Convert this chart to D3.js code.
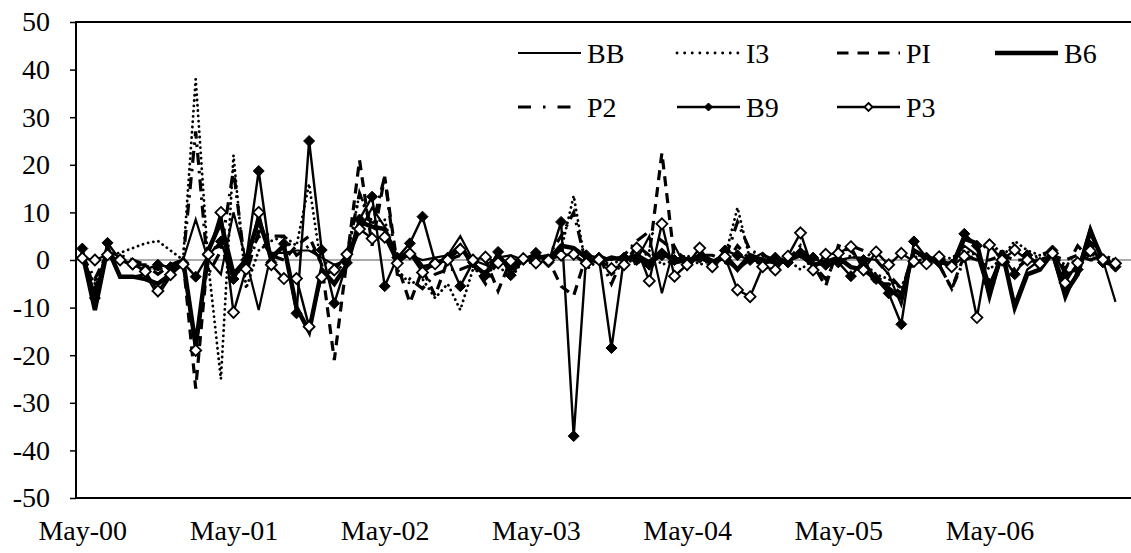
<!DOCTYPE html>
<html><head><meta charset="utf-8">
<script src="https://cdn.jsdelivr.net/npm/d3@7"></script>
</head>
<body style="margin:0">
<svg id="c" width="1131" height="553"></svg>
<script>
// ---- data ----
const monthNames = ["Jan","Feb","Mar","Apr","May","Jun","Jul","Aug","Sep","Oct","Nov","Dec"];
const startMonth = 4, startYear = 0, nPoints = 83;
const categories = [];
for (let i = 0; i < nPoints; i++) {
  const m = (startMonth + i) % 12, y = startYear + Math.floor((startMonth + i) / 12);
  categories.push(monthNames[m] + "-" + String(y).padStart(2, "0"));
}
const tickLabels = ["May-00","May-01","May-02","May-03","May-04","May-05","May-06"];
const yTicks = [-50,-40,-30,-20,-10,0,10,20,30,40,50];

const BB = [1,-7,2,-3.5,-3.5,-3,-7.5,-3.5,0,8.5,0,-3,10,0,-10.5,1.5,1.5,2,2,0.5,-1,0,6,11,7,0,1,0,0.5,1,5,0,-1,0.5,1,0,0,1,1,1,-1,1,0,1,0,5,-7,3,-2,1.5,0,0,-2,0,1.5,-1,0,2,-1,0,0,0.5,0.5,0,-3,-9.5,2,0,-0.5,-0.5,3,1,-7.5,0.5,-9,-2,0,1,-8.4,-2,7,0,-8.8];
const I3 = [0,-5,1,1.5,2.5,3.5,4,2,0,38,-1,-25,22,-6,2,4,5,3,16,-2,-3,0,14,8,8.5,-2,-5,-4,-8,-5,-10.5,-2,-3,-1,-4,0,-1,0,2,13.5,-2,0,-1,0.5,-1,2,-1,0,1,-1,0,0.5,11,0,-1,0.5,0,-2,0,0.5,-1,1,-0.5,-3,-4,-6,1,-1,0,0.5,2,1,-2,0.5,4,2,1,1,-1,0,1,1,0];
const PI = [1,-6,1,0,-1,-1,-2,-1,0,-27,2,3,-4,0,5,1,0,3,5,-1,-21,0,21,3,17.5,-1,-9,-2,-7.5,0,1,0,0,-6.5,0,0,0,0,-5.5,-7.5,1,0,-3,-1,3,1,22.5,0,0,0,0,-1,3,0,0,-1,0,1,-1,-5.5,3,2,-1,-5,-5,-7,0,0,-1,-6,1,0,0,1,0,0,0,1,0,1,0,0,0];
const B6 = [1.5,-10.5,2.5,-3.5,-3.5,-4,-5,-3,0,-18,2,8,-3,0,8.5,0.5,3,-10,-15,-2,-5,-1,8,7,6.5,0,2,-1.5,-1,0.5,3,-1,-3,1,-2,0,1,0,3,2.5,0.5,-0.5,0.5,0,1,-0.5,2,-0.5,0,0.5,-0.5,1,-2,1,0,-0.5,0,1,-1,-0.5,0.5,-1.5,-2,-4,-6,-8,2,0.5,0,-1.5,4.5,3.5,-7.5,2,-10,-3,-2,1.5,-7,-3,6,0,-1];
const P2 = [1,-4,1.5,1,0,-1,-3,-1,0,27,-3,2,19,-3,6,5,5,1,3,0,-2,1,14,7,17.5,-3,-4,-6,-3,-2,-2,-1,-5,0,-1,0,0.5,1,5,10,-1,1,-5,1,4,6,4,2,0,1,1,0,8,2,1,0,0,3,-1,-4,1,3,2,0,-3,-6,1,1,-1,-6,0,1,4,1,-2,0,1,2,-2,3,0,1,0];
const B9 = [2.4,-8,3.6,0,-1,-2,-1,-1.5,-0.5,-3.5,1,3.9,-4,0,18.7,-0.5,3.4,-11.2,25,2.1,-9.1,-0.6,8.5,13.3,-5.5,0.5,3.5,9.1,-0.5,0.5,-5.5,-0.5,-3.2,1.7,-3.2,0,1.5,-0.5,8,-37,1,0.5,-18.5,0.5,0,-1,1,0,-0.5,0.5,-1,2,1,0,-0.5,0.5,-0.5,1.5,0.5,-1,-0.5,-3.4,0,-4,-7,-13.5,3.9,0.5,-0.5,-1,5.5,3,-5,1,-3,1,-1,2,-3,-2,3,-0.5,-1.4];
const P3 = [0.4,0,1.1,0,-0.8,-2.4,-6.5,-3.1,-0.9,-19,1.2,10,-11,-1.9,10,-1,-3.9,-3.9,-14,-3.6,-2.1,1.2,6.5,4.5,4.8,-0.7,1.3,-2.6,-0.8,0,2.2,0,0.6,-0.6,-0.2,0.3,-0.6,-0.1,1,1.2,-0.7,0.1,-1.8,-1,2.5,-4.4,7.6,-3.4,-1,2.5,-1.4,0.7,-6.3,-7.7,-1.4,-2.1,0.8,5.7,-2.1,1.2,1.4,2.8,-2.1,1.7,-1,1.4,-0.3,-0.8,0.7,-1.4,0.8,-12.1,3.2,0,2.1,0,-0.7,1.4,-4.8,-0.6,1.9,0.1,-0.7];

const seriesNames = ["BB","I3","PI","B6","P2","B9","P3"];
const seriesData = [BB, I3, PI, B6, P2, B9, P3];

// ---- styles ----
const styles = {
  BB: {w: 2.2, dash: null, cap: "butt", marker: null},
  I3: {w: 2.8, dash: "0.1,5.2", cap: "round", marker: null},
  PI: {w: 3.2, dash: "10,7", cap: "butt", marker: null},
  B6: {w: 4.5, dash: null, cap: "butt", marker: null},
  P2: {w: 3.2, dash: "12,6,2.5,6", cap: "butt", marker: null},
  B9: {w: 2.4, dash: null, cap: "butt", marker: "filled"},
  P3: {w: 2.4, dash: null, cap: "butt", marker: "open"}
};
const FONT = "Liberation Serif";

const svg = d3.select("#c");
const L = 76, T = 22, B = 498, W = 1131;
const step = 12.6;
const x = d3.scaleLinear().domain([-0.5, nPoints - 0.5]).range([L, L + nPoints * step]);
const y = d3.scaleLinear().domain([-50, 50]).range([B, T]);

// zero line
svg.append("line").attr("x1", L).attr("x2", W).attr("y1", y(0)).attr("y2", y(0))
  .attr("stroke", "#555").attr("stroke-width", 1);

// y axis
const ya = svg.append("g").attr("transform", `translate(${L},0)`)
  .call(d3.axisLeft(y).tickValues(yTicks).tickSize(6).tickPadding(20).tickFormat(d => String(d)));
ya.attr("font-family", FONT).attr("font-size", 28);
ya.select(".domain").remove();
ya.selectAll(".tick line").attr("stroke", "#000").attr("stroke-width", 1.5);
ya.selectAll("text").attr("fill", "#000");

// x axis
const tickIdx = tickLabels.map(t => categories.indexOf(t));
const xa = svg.append("g").attr("transform", `translate(0,${B})`)
  .call(d3.axisBottom(x).tickValues(tickIdx).tickSize(0).tickPadding(22)
    .tickFormat(d => categories[d]));
xa.attr("font-family", FONT).attr("font-size", 28);
xa.select(".domain").remove();
xa.selectAll("text").attr("fill", "#000");

// frame (top, left, bottom)
svg.append("path").attr("d", `M${W + 5},${T}H${L}V${B}H${W + 5}`)
  .attr("fill", "none").attr("stroke", "#000").attr("stroke-width", 2);

// series
const line = d3.line().x((d, i) => x(i)).y(d => y(d));
function drawMarker(g, cx, cy, kind, size) {
  const s = size;
  const p = `M${cx},${cy - s}L${cx + s},${cy}L${cx},${cy + s}L${cx - s},${cy}Z`;
  g.append("path").attr("d", p)
    .attr("fill", kind === "filled" ? "#000" : "#fff")
    .attr("stroke", "#000").attr("stroke-width", kind === "filled" ? 1 : 1.8);
}
seriesNames.forEach((name, k) => {
  const st = styles[name];
  const g = svg.append("g");
  g.append("path").datum(seriesData[k]).attr("d", line)
    .attr("fill", "none").attr("stroke", "#000").attr("stroke-width", st.w)
    .attr("stroke-linejoin", "miter").attr("stroke-linecap", st.cap)
    .attr("stroke-dasharray", st.dash);
  if (st.marker) {
    seriesData[k].forEach((v, i) => drawMarker(g, x(i), y(v), st.marker, 5.5));
  }
});

// legend
const legendItems = [
  {name: "BB", x: 518, y: 53}, {name: "I3", x: 677, y: 53},
  {name: "PI", x: 837, y: 53}, {name: "B6", x: 995, y: 53},
  {name: "P2", x: 518, y: 107}, {name: "B9", x: 677, y: 107},
  {name: "P3", x: 837, y: 107}
];
const legendDash = {I3: "0.1,7.5", PI: "11.5,9", P2: "13,12,2.5,12"};
const lg = svg.append("g");
legendItems.forEach(it => {
  const st = styles[it.name];
  lg.append("line").attr("x1", it.x).attr("x2", it.x + 63).attr("y1", it.y).attr("y2", it.y)
    .attr("stroke", "#000").attr("stroke-width", st.w)
    .attr("stroke-linecap", st.cap).attr("stroke-dasharray", legendDash[it.name] || st.dash);
  if (st.marker) drawMarker(lg, it.x + 31.5, it.y, st.marker, 4);
  lg.append("text").attr("x", it.x + 69).attr("y", it.y + 10)
    .attr("font-size", 28).attr("fill", "#000").attr("font-family", FONT).text(it.name);
});
</script>
</body></html>
